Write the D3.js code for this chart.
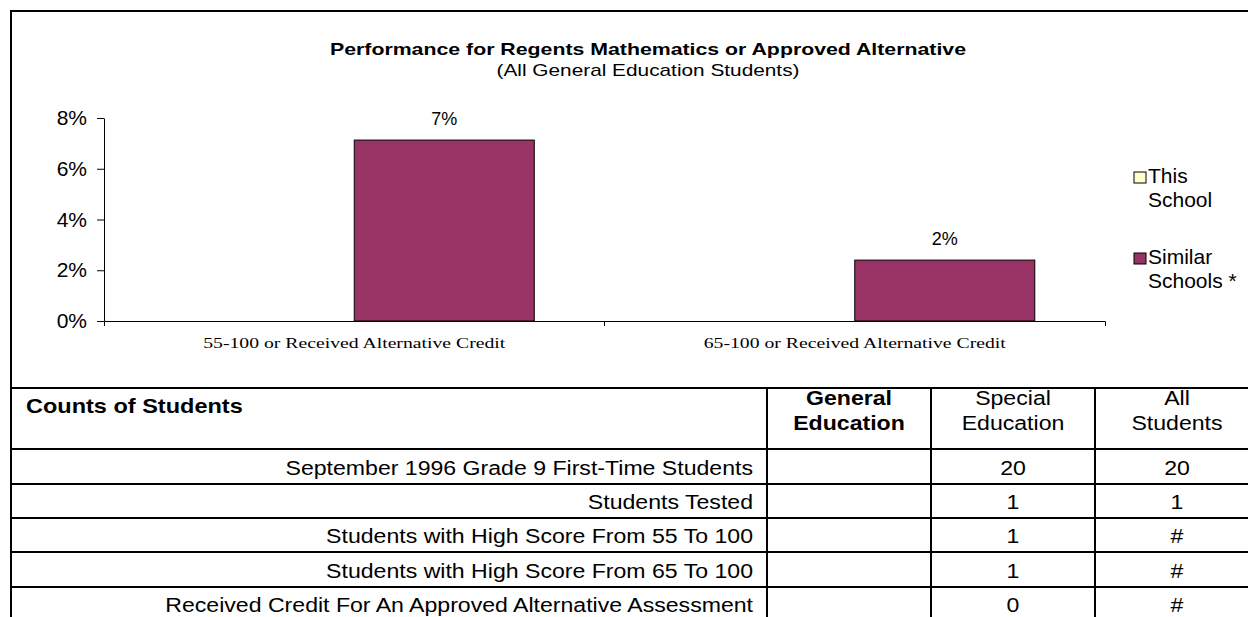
<!DOCTYPE html>
<html>
<head>
<meta charset="utf-8">
<script src="https://cdn.jsdelivr.net/npm/d3@7"></script>
<style>
  body { margin: 0; background: #fff; }
  svg { display: block; font-family: "Liberation Sans", Arial, sans-serif; }
</style>
</head>
<body>
<svg id="chart" width="1248" height="617"></svg>
<script>
// chart data
const categories = ["55-100 or Received Alternative Credit", "65-100 or Received Alternative Credit"];
const seriesNames = ["This School", "Similar Schools *"];
const thisSchool = [null, null];
const similarSchools = [0.0713, 0.024];
const yTicks = [0, 0.02, 0.04, 0.06, 0.08];

// table data
const tableHeads = ["Counts of Students", "General\nEducation", "Special\nEducation", "All\nStudents"];
const rowLabels = [
  "September 1996 Grade 9 First-Time Students",
  "Students Tested",
  "Students with High Score From 55 To 100",
  "Students with High Score From 65 To 100",
  "Received Credit For An Approved Alternative Assessment"
];
const generalEd = ["", "", "", "", ""];
const specialEd = ["20", "1", "1", "1", "0"];
const allStudents = ["20", "1", "#", "#", "#"];

const colors = ["#ffffcc", "#993366"];

const svg = d3.select("#chart");
svg.append("rect").attr("width", 1248).attr("height", 617).attr("fill", "#fff");

// text that is a bit wider than the font (the source was stretched sideways)
function wideText(parent, X, Y, str, size, sx, anchor, bold) {
  return parent.append("text")
    .attr("transform", `translate(${X},${Y}) scale(${sx},1)`)
    .attr("text-anchor", anchor || "start")
    .attr("font-size", size)
    .attr("font-weight", bold ? "bold" : "normal")
    .text(str);
}

// outer frame (continues past the right/bottom of the view)
svg.append("path")
  .attr("d", "M11,617V11H1248")
  .attr("fill", "none").attr("stroke", "#000").attr("stroke-width", 2);

// titles
svg.append("text").attr("x", 648).attr("y", 55).attr("text-anchor", "middle")
  .attr("font-weight", "bold").attr("font-size", 17)
  .attr("textLength", 636).attr("lengthAdjust", "spacingAndGlyphs")
  .text("Performance for Regents Mathematics or Approved Alternative");
svg.append("text").attr("x", 648).attr("y", 76).attr("text-anchor", "middle")
  .attr("font-size", 17)
  .attr("textLength", 303).attr("lengthAdjust", "spacingAndGlyphs")
  .text("(All General Education Students)");

const x = d3.scaleBand().domain(categories).range([104, 1105]);
const xs = d3.scaleBand().domain(seriesNames).range([0, x.bandwidth()]).paddingOuter(0.39);
const y = d3.scaleLinear().domain([0, 0.08]).range([321, 118]);

// y axis
const yAxis = svg.append("g").attr("transform", "translate(104,0)")
  .call(d3.axisLeft(y).tickValues(yTicks).tickFormat(d3.format(".0%")).tickSize(7).tickSizeOuter(0).tickPadding(10));
yAxis.selectAll("text").attr("font-size", 21).attr("font-family", "Liberation Sans, Arial, sans-serif").attr("fill", "#000");
yAxis.selectAll("line, path").attr("stroke", "#000");

// bars
const data = categories.map((c, i) => ({ c, vals: [thisSchool[i], similarSchools[i]] }));
const groups = svg.selectAll("g.grp").data(data).join("g").attr("class", "grp")
  .attr("transform", d => `translate(${x(d.c)},0)`);
groups.selectAll("rect").data(d => d.vals.map((v, k) => ({ v, k })).filter(e => e.v != null))
  .join("rect")
  .attr("x", e => xs(seriesNames[e.k]))
  .attr("width", xs.bandwidth())
  .attr("y", e => y(e.v))
  .attr("height", e => y(0) - y(e.v))
  .attr("fill", e => colors[e.k])
  .attr("stroke", "#000").attr("stroke-width", 1);
groups.selectAll("text.val").data(d => d.vals.map((v, k) => ({ v, k })).filter(e => e.v != null))
  .join("text").attr("class", "val")
  .attr("x", e => xs(seriesNames[e.k]) + xs.bandwidth() / 2)
  .attr("y", e => y(e.v) - 15)
  .attr("text-anchor", "middle").attr("font-size", 18)
  .text(e => d3.format(".0%")(e.v));

// x axis
const xAxis = svg.append("g").attr("transform", `translate(0,${y(0)})`)
  .call(d3.axisBottom(x).tickSize(0).tickSizeOuter(5).tickFormat(""));
xAxis.selectAll("path").attr("stroke", "#000");
xAxis.selectAll("line.sep").data(categories.slice(1)).join("line").attr("class", "sep")
  .attr("x1", d => x(d)).attr("x2", d => x(d)).attr("y1", 0).attr("y2", 5).attr("stroke", "#000");
svg.selectAll("text.cat").data(categories).join("text").attr("class", "cat")
  .attr("x", d => x(d) + x.bandwidth() / 2).attr("y", 348)
  .attr("text-anchor", "middle")
  .attr("font-family", "Liberation Serif, serif").attr("font-size", 15)
  .attr("textLength", 302).attr("lengthAdjust", "spacingAndGlyphs")
  .text(d => d);

// legend
const leg = svg.selectAll("g.leg").data(seriesNames).join("g").attr("class", "leg")
  .attr("transform", (d, i) => `translate(1134,${172 + i * 81})`);
leg.append("rect").attr("width", 12).attr("height", 11)
  .attr("fill", (d, i) => colors[i]).attr("stroke", "#000");
leg.append("text").attr("font-size", 21).selectAll("tspan")
  .data(d => { const p = d.split(" "); return [p[0], p.slice(1).join(" ")]; })
  .join("tspan").attr("x", 14).attr("y", (d, i) => 11 + i * 24).text(d => d);

// table
const colX = [11, 767, 931, 1095, 1259];
const rowY = [388, 449, 484, 518, 552, 587, 621];
const fs = 21, sx = 1.1;
const tbl = svg.append("g");
rowY.forEach(ry => tbl.append("line").attr("x1", 11).attr("x2", 1248).attr("y1", ry).attr("y2", ry)
  .attr("stroke", "#000").attr("stroke-width", 2));
colX.slice(1, 4).forEach(cx => tbl.append("line").attr("x1", cx).attr("x2", cx).attr("y1", 388).attr("y2", 617)
  .attr("stroke", "#000").attr("stroke-width", 2));

wideText(tbl, 26, 413, tableHeads[0], fs, 1.12, "start", true);
tableHeads.slice(1).forEach((h, i) => {
  const cx = (colX[i + 1] + colX[i + 2]) / 2;
  h.split("\n").forEach((ln, j) => wideText(tbl, cx, 405 + j * 25, ln, fs, sx, "middle", i === 0));
});

rowLabels.forEach((lab, r) => {
  const cy = (rowY[r + 1] + rowY[r + 2]) / 2 + 8;
  wideText(tbl, 753, cy, lab, fs, sx, "end");
  [generalEd, specialEd, allStudents].forEach((col, c) => {
    wideText(tbl, (colX[c + 1] + colX[c + 2]) / 2, cy, col[r], fs, sx, "middle");
  });
});
</script>
</body>
</html>
